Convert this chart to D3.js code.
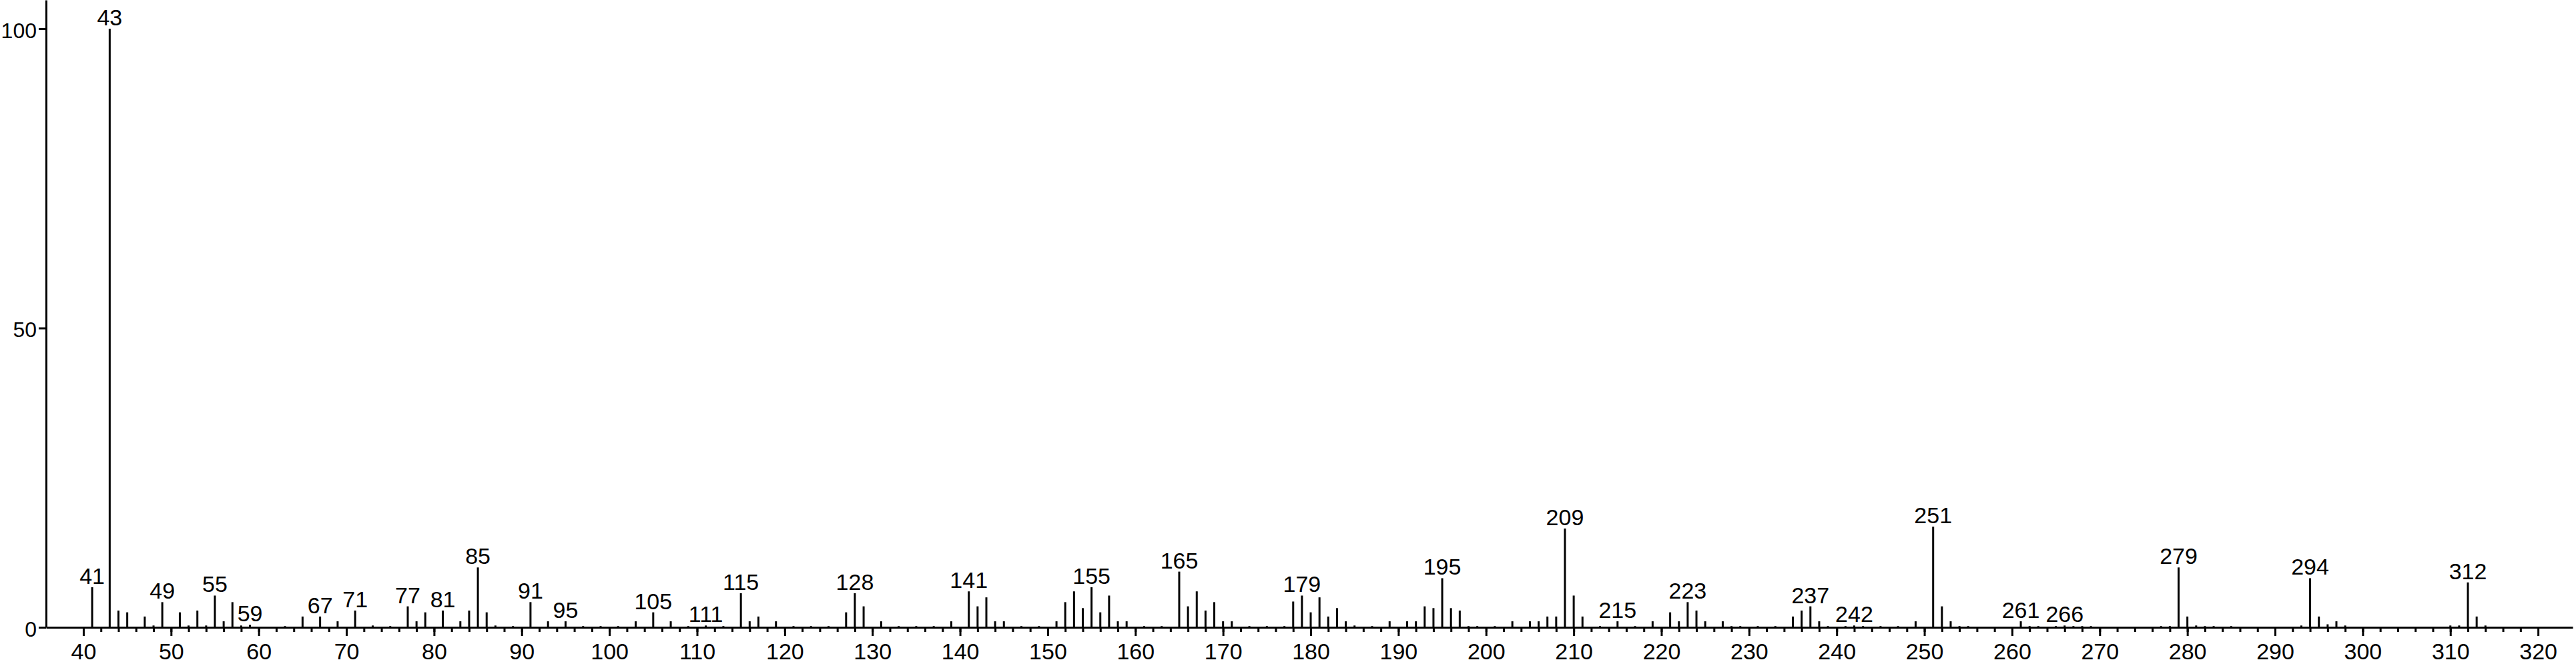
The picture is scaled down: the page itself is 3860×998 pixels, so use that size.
<!DOCTYPE html>
<html>
<head>
<meta charset="utf-8">
<script src="https://cdn.jsdelivr.net/npm/d3@7"></script>
<style>
  html, body { margin: 0; padding: 0; background: #fff; }
  svg { display: block; }
</style>
</head>
<body>
<svg id="chart"></svg>
<script>
// m/z values and relative intensities (%)
var mzValues = [
  41, 43, 44, 45, 47, 48, 49, 51, 52, 53, 54, 55, 56, 57, 58, 59, 63, 65, 67, 69,
  71, 73, 75, 77, 78, 79, 81, 83, 84, 85, 86, 87, 89, 91, 93, 95, 97, 99, 101, 103,
  105, 107, 109, 111, 113, 115, 116, 117, 119, 121, 123, 125, 127, 128, 129, 131, 133, 135, 137, 139,
  141, 142, 143, 144, 145, 147, 149, 151, 152, 153, 154, 155, 156, 157, 158, 159, 161, 163, 165, 166,
  167, 168, 169, 170, 171, 173, 175, 177, 178, 179, 180, 181, 182, 183, 184, 185, 187, 189, 191, 192,
  193, 194, 195, 196, 197, 198, 199, 201, 203, 205, 206, 207, 208, 209, 210, 211, 213, 215, 217, 219,
  221, 222, 223, 224, 225, 227, 228, 229, 231, 233, 235, 236, 237, 238, 239, 241, 242, 243, 245, 247,
  249, 251, 252, 253, 254, 255, 261, 262, 263, 265, 266, 267, 268, 269, 277, 278, 279, 280, 281, 282,
  283, 285, 293, 294, 295, 296, 297, 298, 310, 311, 312, 313, 314
];
var intensities = [
  6.7, 100, 2.8, 2.5, 1.8, 0.3, 4.2, 2.5, 0.3, 2.8, 0.3, 5.3, 1.0, 4.2, 0.3, 0.4, 0.2, 1.8, 1.8, 1.0,
  2.8, 0.3, 0.2, 3.5, 1.0, 2.5, 2.8, 1.0, 2.8, 10.0, 2.5, 0.3, 0.2, 4.2, 1.0, 1.0, 0.2, 0.2, 0.2, 1.0,
  2.5, 1.0, 0.2, 0.3, 0.2, 5.7, 1.0, 1.8, 1.0, 0.2, 0.2, 0.2, 2.5, 5.7, 3.5, 1.0, 0.2, 0.2, 0.2, 1.0,
  6.0, 3.5, 5.0, 1.0, 1.0, 0.2, 0.2, 1.0, 4.2, 6.0, 3.2, 6.7, 2.5, 5.3, 1.0, 1.0, 0.2, 0.2, 9.3, 3.5,
  6.0, 2.8, 4.2, 1.0, 1.0, 0.2, 0.2, 0.2, 4.3, 5.3, 2.5, 5.0, 1.8, 3.2, 1.0, 0.3, 0.2, 1.0, 1.0, 1.0,
  3.5, 3.2, 8.2, 3.2, 2.8, 0.2, 0.2, 0.2, 1.0, 1.0, 1.0, 1.8, 1.8, 16.5, 5.3, 1.8, 0.2, 1.0, 0.2, 1.0,
  2.5, 1.0, 4.2, 2.8, 1.0, 1.0, 0.2, 0.2, 0.2, 0.2, 1.8, 2.8, 3.5, 1.0, 0.2, 0.2, 0.3, 0.2, 0.2, 0.2,
  1.0, 16.8, 3.5, 1.0, 0.2, 0.2, 1.0, 0.2, 0.2, 0.2, 0.3, 0.2, 0.2, 0.2, 0.2, 0.2, 10.0, 1.8, 0.3, 0.2,
  0.2, 0.2, 0.3, 8.2, 1.8, 0.5, 1.0, 0.3, 0.3, 0.3, 7.5, 1.8, 0.3
];
// peaks that carry an m/z caption
var labeledPeaks = [41, 43, 49, 55, 59, 67, 71, 77, 81, 85, 91, 95, 105, 111, 115, 128, 141, 155,
  165, 179, 195, 209, 215, 223, 237, 242, 251, 261, 266, 279, 294, 312];
var xMajorTicks = d3.range(40, 321, 10);
var xMinorTicks = d3.range(42, 319, 2);
var yTicks = [0, 50, 100];

var width = 3860, height = 998;
var fontSize = 34;
var fontFamily = "'Liberation Sans', Arial, sans-serif";

var svg = d3.select("#chart").attr("width", width).attr("height", height);
svg.append("rect").attr("width", width).attr("height", height).attr("fill", "#fff");

var x = d3.scaleLinear().domain([35.74, 323.95]).range([69, 3855]);
var y = d3.scaleLinear().domain([0, 104.8]).range([940, 0]);

var peaks = mzValues.map(function(mz, i) {
  return { mz: mz, value: intensities[i] };
});

// minor ticks every 2 units
svg.append("g")
  .attr("transform", "translate(0," + y(0) + ")")
  .call(d3.axisBottom(x).tickValues(xMinorTicks).tickSize(7).tickSizeOuter(0).tickFormat(""))
  .call(function(g) { g.select(".domain").remove(); })
  .selectAll("line").attr("stroke", "#000").attr("stroke-width", 3);

// major ticks + labels
var xAxis = svg.append("g")
  .attr("transform", "translate(0," + y(0) + ")")
  .call(d3.axisBottom(x).tickValues(xMajorTicks).tickSize(13).tickSizeOuter(0).tickPadding(11));
xAxis.select(".domain").attr("stroke", "#000").attr("stroke-width", 3);
xAxis.selectAll("line").attr("stroke", "#000").attr("stroke-width", 3);
xAxis.selectAll("text").attr("fill", "#000").attr("font-size", fontSize)
  .attr("font-family", fontFamily);

var yAxis = svg.append("g")
  .attr("transform", "translate(" + x.range()[0] + ",0)")
  .call(d3.axisLeft(y).tickValues(yTicks).tickSize(11).tickSizeOuter(0).tickPadding(3));
yAxis.select(".domain").attr("stroke", "#000").attr("stroke-width", 3);
yAxis.selectAll("line").attr("stroke", "#000").attr("stroke-width", 3);
yAxis.selectAll("text").attr("fill", "#000").attr("font-size", 32)
  .attr("font-family", fontFamily).attr("dy", "0.42em");

// stick spectrum
svg.append("g").selectAll("line.peak")
  .data(peaks).enter().append("line")
  .attr("class", "peak")
  .attr("x1", function(d) { return x(d.mz); })
  .attr("x2", function(d) { return x(d.mz); })
  .attr("y1", y(0))
  .attr("y2", function(d) { return y(d.value); })
  .attr("stroke", "#000")
  .attr("stroke-width", 3);

svg.append("g").selectAll("text.caption")
  .data(peaks.filter(function(d) { return labeledPeaks.indexOf(d.mz) >= 0; }))
  .enter().append("text")
  .attr("class", "caption")
  .attr("x", function(d) { return x(d.mz); })
  .attr("y", function(d) { return y(d.value) - 5; })
  .attr("text-anchor", "middle")
  .attr("font-size", fontSize)
  .attr("font-family", fontFamily)
  .attr("fill", "#000")
  .text(function(d) { return d.mz; });
</script>
</body>
</html>
